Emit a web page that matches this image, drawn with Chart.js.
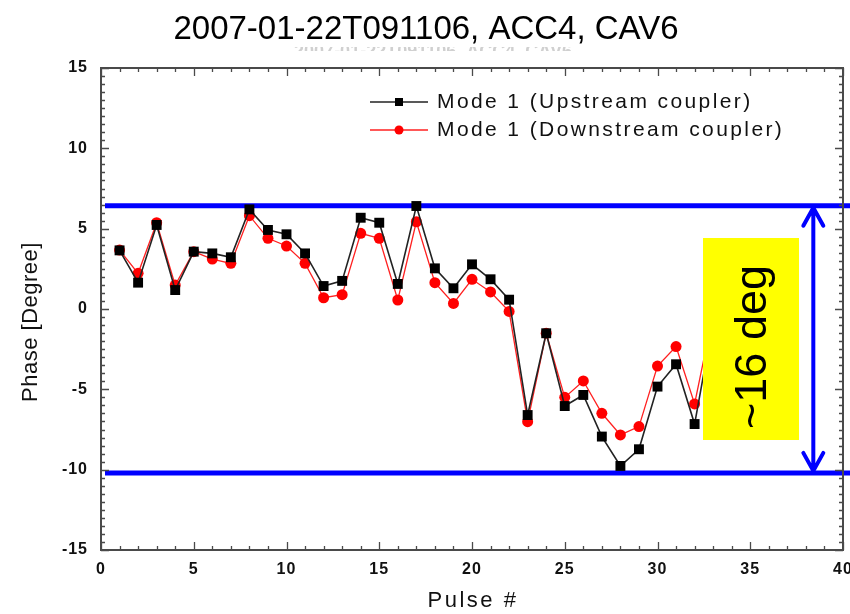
<!DOCTYPE html>
<html>
<head>
<meta charset="utf-8">
<script src="https://cdn.jsdelivr.net/npm/chart.js@4.4.1/dist/chart.umd.min.js"></script>
<style>
  html, body { margin: 0; padding: 0; background: #fff; }
</style>
</head>
<body>
<canvas id="phaseChart" width="850" height="614"></canvas>
<script>
// values
const pulses = [1, 2, 3, 4, 5, 6, 7, 8, 9, 10, 11, 12, 13, 14, 15, 16, 17, 18, 19, 20,
                21, 22, 23, 24, 25, 26, 27, 28, 29, 30, 31, 32, 33];
const upstream = [3.65, 1.64, 5.23, 1.18, 3.57, 3.46, 3.22, 6.2, 4.92, 4.65, 3.46, 1.43, 1.75,
                  5.68, 5.37, 1.56, 6.41, 2.53, 1.29, 2.78, 1.85, 0.58, -6.6, -1.51, -6.04,
                  -5.35, -7.94, -9.77, -8.73, -4.83, -3.44, -7.16, -0.8];
const downstream = [3.67, 2.22, 5.37, 1.49, 3.57, 3.11, 2.84, 5.81, 4.4, 3.92, 2.84, 0.7, 0.89,
                    4.71, 4.4, 0.56, 5.43, 1.64, 0.35, 1.85, 1.06, -0.15, -7.01, -1.51, -5.5,
                    -4.48, -6.49, -7.84, -7.32, -3.55, -2.34, -5.91, -0.3];
const seriesNames = ['Mode 1 (Upstream coupler)', 'Mode 1 (Downstream coupler)'];
const bandLimits = [6.43, -10.2];
const spreadText = '~16 deg';
const spreadAt = 38.4;
const titleText = '2007-01-22T091106, ACC4, CAV6';

const FONT = '"Liberation Sans", Arial, sans-serif';
const FRAME = '#4a4a4a';

function pts(ys) {
  return pulses.map((p, i) => ({ x: p, y: ys[i] }));
}

const decor = {
  id: 'decor',
  beforeDraw(chart) {
    const ctx = chart.ctx;
    ctx.save();
    ctx.fillStyle = '#fff';
    ctx.fillRect(0, 0, chart.width, chart.height);
    ctx.restore();
    ctx.letterSpacing = '1px';
  },
  beforeDatasetsDraw(chart) {
    const ctx = chart.ctx, a = chart.chartArea, y = chart.scales.y;
    ctx.save();
    ctx.strokeStyle = '#0000ff';
    ctx.lineWidth = 5;
    bandLimits.forEach(v => {
      const py = y.getPixelForValue(v);
      ctx.beginPath();
      ctx.moveTo(a.left + 4, py);
      ctx.lineTo(chart.width, py);
      ctx.stroke();
    });
    ctx.restore();
  },
  afterDatasetsDraw(chart) {
    const ctx = chart.ctx, a = chart.chartArea;
    const xs = chart.scales.x, ys = chart.scales.y;
    ctx.save();
    ctx.letterSpacing = '0px';

    // frame + inward ticks
    ctx.strokeStyle = FRAME;
    ctx.lineWidth = 2;
    ctx.strokeRect(a.left, a.top, a.right - a.left, a.bottom - a.top);
    ctx.lineWidth = 1.3;
    ctx.beginPath();
    for (let v = 0; v <= 40; v += 1) {
      const px = Math.round(xs.getPixelForValue(v)) + 0.5;
      const len = v % 5 === 0 ? 8 : 4;
      ctx.moveTo(px, a.bottom); ctx.lineTo(px, a.bottom - len);
      ctx.moveTo(px, a.top); ctx.lineTo(px, a.top + len);
    }
    for (let v = -15; v <= 15; v += 0.5) {
      const py = Math.round(ys.getPixelForValue(v)) + 0.5;
      const len = v % 5 === 0 ? 8 : 4;
      ctx.moveTo(a.left, py); ctx.lineTo(a.left + len, py);
      ctx.moveTo(a.right, py); ctx.lineTo(a.right - len, py);
    }
    ctx.stroke();

    // yellow note box
    ctx.fillStyle = '#ffff00';
    ctx.fillRect(703, 238, 96, 202);
    ctx.save();
    ctx.translate(766, 347);
    ctx.rotate(-Math.PI / 2);
    ctx.fillStyle = '#000';
    ctx.font = '45px ' + FONT;
    ctx.textAlign = 'center';
    ctx.textBaseline = 'alphabetic';
    ctx.fillText(spreadText, 0, 0);
    ctx.restore();

    // double arrow between the limits
    const ax = xs.getPixelForValue(spreadAt);
    const t = ys.getPixelForValue(bandLimits[0]) + 2;
    const b = ys.getPixelForValue(bandLimits[1]) - 2;
    ctx.strokeStyle = '#0000ff';
    ctx.lineWidth = 4;
    ctx.lineCap = 'round';
    ctx.lineJoin = 'round';
    ctx.beginPath();
    ctx.moveTo(ax, t); ctx.lineTo(ax, b);
    ctx.moveTo(ax - 10, t + 18); ctx.lineTo(ax, t); ctx.lineTo(ax + 10, t + 18);
    ctx.moveTo(ax - 10, b - 18); ctx.lineTo(ax, b); ctx.lineTo(ax + 10, b - 18);
    ctx.stroke();

    // legend
    const rows = [
      { y: 102, color: '#222', style: 'rect' },
      { y: 130, color: '#ff2020', style: 'circle' }
    ];
    ctx.lineCap = 'butt';
    rows.forEach((r, i) => {
      ctx.strokeStyle = r.color;
      ctx.lineWidth = 1.5;
      ctx.beginPath();
      ctx.moveTo(370, r.y); ctx.lineTo(428, r.y);
      ctx.stroke();
      ctx.fillStyle = i === 0 ? '#000' : '#ff0000';
      if (r.style === 'rect') {
        ctx.fillRect(395, r.y - 4, 8, 8);
      } else {
        ctx.beginPath(); ctx.arc(399, r.y, 4.5, 0, Math.PI * 2); ctx.fill();
      }
      ctx.fillStyle = '#111';
      ctx.font = '21px ' + FONT;
      ctx.letterSpacing = '2.4px';
      ctx.textAlign = 'left';
      ctx.textBaseline = 'middle';
      ctx.fillText(seriesNames[i], 437, r.y);
      ctx.letterSpacing = '0px';
    });

    // title
    ctx.fillStyle = '#000';
    ctx.font = '33px ' + FONT;
    ctx.textAlign = 'center';
    ctx.textBaseline = 'alphabetic';
    ctx.fillText(titleText, 426, 39);

    // faint cut-off duplicate of the title
    ctx.save();
    ctx.beginPath();
    ctx.rect(0, 47, chart.width, 4);
    ctx.clip();
    ctx.fillStyle = '#d0d0d0';
    ctx.font = 'bold 18px ' + FONT;
    ctx.fillText(titleText, 433, 57);
    ctx.restore();

    // axis titles
    ctx.fillStyle = '#111';
    ctx.font = '22px ' + FONT;
    ctx.letterSpacing = '2.5px';
    ctx.textBaseline = 'middle';
    ctx.fillText('Pulse #', 473, 601);
    ctx.letterSpacing = '0.5px';
    ctx.save();
    ctx.translate(31, 322);
    ctx.rotate(-Math.PI / 2);
    ctx.fillText('Phase [Degree]', 0, 0);
    ctx.restore();

    ctx.restore();
  }
};

new Chart(document.getElementById('phaseChart'), {
  type: 'line',
  data: {
    datasets: [
      {
        label: seriesNames[0],
        data: pts(upstream),
        borderColor: '#222',
        borderWidth: 1.6,
        backgroundColor: '#000',
        pointStyle: 'rect',
        pointRadius: 7,
        pointBorderWidth: 0,
        tension: 0
      },
      {
        label: seriesNames[1],
        data: pts(downstream),
        borderColor: '#ff2020',
        borderWidth: 1.3,
        backgroundColor: '#ff0000',
        pointStyle: 'circle',
        pointRadius: 5.5,
        pointBorderWidth: 0,
        tension: 0
      }
    ]
  },
  options: {
    responsive: false,
    animation: false,
    devicePixelRatio: 1,
    layout: { padding: { top: 68, right: 7, left: 0, bottom: 0 } },
    plugins: {
      legend: { display: false },
      title: { display: false },
      tooltip: { enabled: false }
    },
    scales: {
      x: {
        type: 'linear',
        min: 0,
        max: 40,
        grid: { display: false, drawTicks: false },
        border: { display: false },
        ticks: {
          stepSize: 5,
          padding: 10,
          color: '#111',
          maxRotation: 0,
          font: { family: FONT, size: 16, weight: 'bold' }
        },
        afterFit(scale) { scale.height = 64; scale.paddingLeft = 0; scale.paddingRight = 0; }
      },
      y: {
        min: -15,
        max: 15,
        grid: { display: false, drawTicks: false },
        border: { display: false },
        ticks: {
          stepSize: 5,
          padding: 13,
          color: '#111',
          font: { family: FONT, size: 16, weight: 'bold' }
        },
        afterFit(scale) { scale.width = 101; scale.paddingTop = 0; scale.paddingBottom = 0; }
      }
    }
  },
  plugins: [decor]
});
</script>
</body>
</html>
